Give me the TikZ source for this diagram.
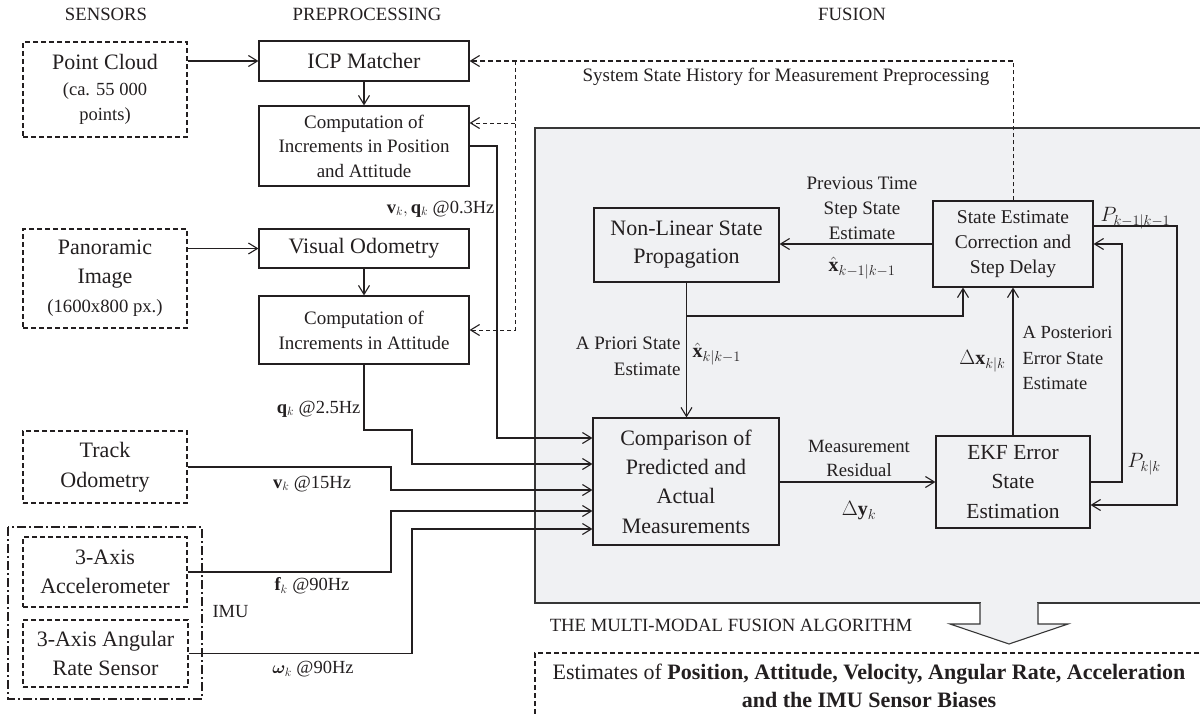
\documentclass[tikz,border=0pt]{standalone}
\usepackage{fontspec}
\setmainfont{Liberation Serif}
\usepackage{amsmath}
\usepackage{bm}
\usetikzlibrary{arrows.meta,calc}
\definecolor{ink}{RGB}{35,31,32}
\definecolor{fusbg}{RGB}{240,241,243}
\definecolor{fusline}{RGB}{55,55,55}
\newcommand{\fsz}[2]{\fontsize{#1}{#2}\selectfont}
\begin{document}
\begin{tikzpicture}[x=1pt,y=-1pt,line width=1.1pt,draw=ink,text=ink,
  arr/.style={-{Straight Barb[length=9pt,width=11pt,line width=1.1pt]}},
  box/.style={draw=ink,line width=1.1pt,inner sep=0pt,align=center},
  sbox/.style={box,dash pattern=on 5pt off 3pt},
  dline/.style={draw=ink,dash pattern=on 5pt off 3pt,line width=1.1pt},
  tline/.style={draw=ink,dash pattern=on 4pt off 3pt,line width=0.8pt},
  lbl/.style={inner sep=0pt,align=center,font=\fsz{18.5}{25}},
  captext/.style={inner sep=0pt,font=\fsz{18.7}{24}}
]
\useasboundingbox (0,0) rectangle (1200,717);
\clip (0,0) rectangle (1200,717);

% fusion background
\draw[fill=fusbg,draw=fusline,line width=1.2pt] (535,128) rectangle (1215,603);

% column headings
\node[captext] (hsens) at (106,14) {SENSORS};
\node[captext] (hpre) at (367,14) {PREPROCESSING};
\node[captext] (hfus) at (852,14) {FUSION};

% sensor boxes
\node[sbox,minimum width=164pt,minimum height=95pt,font=\fsz{18.5}{25.5}] (pc) at (105,89.5)
  {\fsz{22}{25.5}Point Cloud\\(ca. 55 000\\points)};
\node[sbox,minimum width=164pt,minimum height=99pt,font=\fsz{22}{29}] (pan) at (105,278.5)
  {Panoramic\\Image\\\fsz{18.7}{29}(1600x800 px.)};
\node[sbox,minimum width=164pt,minimum height=72pt,font=\fsz{22}{30}] (track) at (105,467)
  {Track\\Odometry};
\node[sbox,minimum width=164pt,minimum height=70pt,font=\fsz{22}{29}] (acc) at (105,572)
  {3-Axis\\Accelerometer};
\node[sbox,minimum width=165pt,minimum height=67pt,font=\fsz{22}{29}] (ang) at (105.5,653.5)
  {3-Axis Angular\\Rate Sensor};
\draw[line width=1.5pt,dash pattern=on 9pt off 3pt on 2pt off 3pt] (8,527) rectangle (202,699);
\node[lbl,anchor=west] (imu) at (212,612) {IMU};

% preprocessing boxes
\node[box,minimum width=210pt,minimum height=40pt,font=\fsz{22}{27}] (icp) at (364,61) {ICP Matcher};
\node[box,minimum width=210pt,minimum height=80pt,font=\fsz{19}{24.5}] (comp1) at (364,146)
  {Computation of\\Increments in Position\\and Attitude};
\node[box,minimum width=210pt,minimum height=39pt,font=\fsz{22}{27}] (vo) at (364,248.5) {Visual Odometry};
\node[box,minimum width=210pt,minimum height=68pt,font=\fsz{19}{25}] (comp2) at (364,330)
  {Computation of\\Increments in Attitude};

% fusion boxes
\node[box,minimum width=185pt,minimum height=74pt,font=\fsz{22}{28}] (nlsp) at (686.5,245)
  {Non-Linear State\\Propagation};
\node[box,minimum width=160pt,minimum height=86pt,font=\fsz{19.5}{25}] (sec) at (1013,244)
  {State Estimate\\Correction and\\Step Delay};
\node[box,minimum width=186pt,minimum height=127pt,font=\fsz{22}{29.3}] (cmp) at (686,481.5)
  {Comparison of\\Predicted and\\Actual\\Measurements};
\node[box,minimum width=154pt,minimum height=92pt,font=\fsz{21.5}{29.5}] (ekf) at (1013,482)
  {EKF Error\\State\\Estimation};

% sensor -> preprocessing
\draw[arr] (pc.east |- icp.west) -- (icp.west);
\draw[arr] (pan.east |- vo.west) -- (vo.west);
\draw[arr] (icp.south) -- (comp1.north);
\draw[arr] (vo.south) -- (comp2.north);

% state history (dashed)
\coordinate (hc) at (sec.north |- icp.east);
\coordinate (hv) at (515,61);
\coordinate (h1) at (515,123);
\draw[tline] (sec.north) -- (hc);
\draw[dline,arr] (hc) -- (icp.east);
\draw[tline,arr] (hv) |- (comp2.east);
\draw[tline,arr] (h1) -- (h1 -| comp1.east);
\node[captext,font=\fsz{19}{24}] (hist) at (786,77) {System State History for Measurement Preprocessing};

% measurements into comparison
\coordinate (j1) at (497,438);
\coordinate (j2) at (412,430);
\coordinate (k2) at (412,464);
\coordinate (k3) at (391,490);
\coordinate (k4) at (391,511);
\coordinate (k5) at (412,529);
\draw[arr] (comp1.east) -| (j1) -- (j1 -| cmp.west);
\draw[arr] (comp2.south) |- (j2) -- (k2) -- (k2 -| cmp.west);
\draw[arr] (track.east) -| (k3) -- (k3 -| cmp.west);
\draw[arr] (acc.east) -| (k4) -- (k4 -| cmp.west);
\draw[arr] (ang.east) -| (k5) -- (k5 -| cmp.west);

\node[lbl,anchor=east] (l1) at (495,209) {$\mathbf{v}_k, \mathbf{q}_k$ @0.3Hz};
\node[lbl,anchor=east] (l2) at (361,409) {$\mathbf{q}_k$ @2.5Hz};
\node[lbl] (l3) at (312,484) {$\mathbf{v}_k$ @15Hz};
\node[lbl] (l4) at (312,586) {$\mathbf{f}_k$ @90Hz};
\node[lbl] (l5) at (313,669) {$\bm{\omega}_k$ @90Hz};

% fusion connectors
\coordinate (b1) at (nlsp.south |- 0,316);
\coordinate (b2) at ($(sec.south)+(-50,0)$);
\draw[arr] (nlsp.south) -- (nlsp.south |- cmp.north);
\draw[arr] (b1) -| (b2);
\draw[arr] (sec.west) -- (sec.west -| nlsp.east);
\draw[arr] (ekf.north) -- (sec.south);
\draw[arr] (cmp.east |- ekf.west) -- (ekf.west);
\coordinate (r1) at (1122,244);
\draw[arr] (ekf.east) -| (r1) -- (sec.east);
\coordinate (r2s) at (1093,226);
\coordinate (r2) at (1177,505);
\draw[arr] (r2s) -| (r2) -- (r2 -| ekf.east);

% fusion labels
\node[lbl,font=\fsz{19}{25}] (prev) at (862,208) {Previous Time\\Step State\\Estimate};
\node[lbl,font=\fsz{20}{25}] (xprev) at (862,268) {$\hat{\mathbf{x}}_{k-1|k-1}$};
\node[lbl,font=\fsz{19}{26},align=right,anchor=east] (apri) at (681,356) {A Priori State\\Estimate};
\node[lbl,font=\fsz{20}{25},anchor=west] (xpri) at (692,354) {$\hat{\mathbf{x}}_{k|k-1}$};
\node[lbl,font=\fsz{20}{25},anchor=east] (dx) at (1006,361) {$\Delta\mathbf{x}_{k|k}$};
\node[lbl,font=\fsz{18.5}{25.5},align=left,anchor=west] (apost) at (1022,358) {A Posteriori\\Error State\\Estimate};
\node[lbl,font=\fsz{20}{25},anchor=west] (p1) at (1100,218) {$P_{k-1|k-1}$};
\node[lbl,font=\fsz{20}{25},anchor=west] (p2) at (1127,464) {$P_{k|k}$};
\node[lbl,font=\fsz{18.7}{24}] (meas) at (859,458) {Measurement\\Residual};
\node[lbl,font=\fsz{20}{25}] (dy) at (859,511) {$\Delta\mathbf{y}_k$};

% output arrow
\fill[fusbg] (981,600) rectangle (1037,606);
\draw[fill=fusbg,draw=fusline,line width=1.1pt,line join=miter]
  (980,603) -- (980,624) -- (950,624) -- (1009,644) -- (1068,624) -- (1038,624) -- (1038,603);
\node[captext] (alg) at (731,625) {THE MULTI-MODAL FUSION ALGORITHM};

% estimates box
\draw[dline] (1215,653) -- (535,653) -- (535,725);
\node[lbl,font=\fsz{22}{28}] (est) at (869,686)
  {Estimates of \textbf{Position, Attitude, Velocity, Angular Rate, Acceleration}\\\textbf{and the IMU Sensor Biases}};
\end{tikzpicture}
\end{document}
